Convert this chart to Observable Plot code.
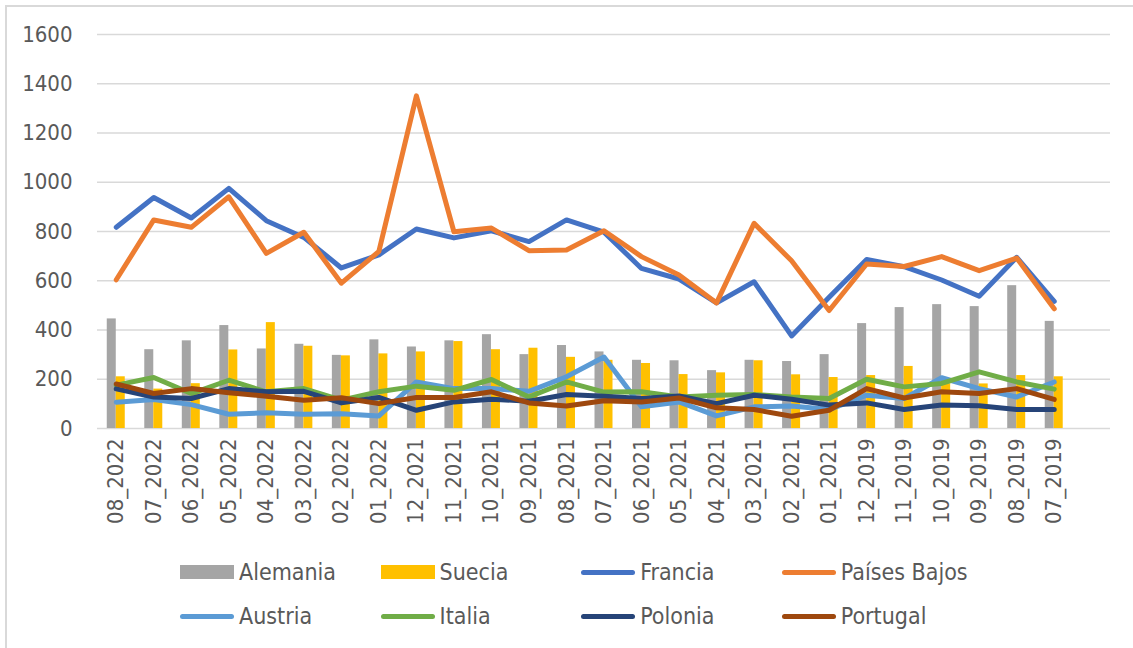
<!DOCTYPE html>
<html>
<head>
<meta charset="utf-8">
<script src="https://cdn.jsdelivr.net/npm/d3@7"></script>
<script src="https://cdn.jsdelivr.net/npm/@observablehq/plot@0.6"></script>
<style>
  html, body { margin: 0; padding: 0; background: #fff; overflow: hidden; }
  body { width: 1133px; height: 648px; position: relative; font-family: "DejaVu Sans Condensed", "DejaVu Sans", Roboto, sans-serif; }
  #frame { position: absolute; left: 5px; top: 5px; width: 1300px; height: 800px; border: 2px solid #d9d9d9; box-sizing: border-box; pointer-events: none; }
  #chart { position: absolute; left: 0; top: 0; }
  #legend { position: absolute; left: 0; top: 545px; width: 1133px; }
  .row { position: absolute; left: 180px; height: 30px; display: flex; }
  .item { width: 200.6px; display: flex; align-items: center; font-size: 23px; color: #595959; }
  .sw { display: inline-block; width: 54px; margin-right: 5px; }
  .box { height: 14px; }
  .ln { height: 5px; border-radius: 3px; }
</style>
</head>
<body>
<div id="chart"></div>
<div id="legend"></div>
<div id="frame"></div>
<script>
const categories = ["08_2022","07_2022","06_2022","05_2022","04_2022","03_2022","02_2022","01_2022","12_2021","11_2021","10_2021","09_2021","08_2021","07_2021","06_2021","05_2021","04_2021","03_2021","02_2021","01_2021","12_2019","11_2019","10_2019","09_2019","08_2019","07_2019"];
const alemania = [445,320,356,418,323,342,297,360,331,356,381,300,337,311,277,275,235,277,272,300,426,491,503,495,580,435];
const suecia   = [210,160,182,319,430,334,295,303,311,353,320,326,289,277,264,219,226,275,218,207,215,252,182,181,215,210];
const francia  = [817,938,855,975,844,776,652,705,810,774,803,759,847,797,650,607,510,596,376,533,686,657,603,537,695,516];
const paisesBajos = [604,847,817,941,711,797,590,719,1351,799,814,722,725,803,698,623,510,833,681,479,668,658,698,641,692,486];
const austria  = [107,118,97,58,64,58,60,51,189,162,162,151,210,290,88,108,51,88,91,77,135,122,206,162,128,189];
const italia   = [176,207,142,196,149,162,115,149,172,155,199,128,189,148,149,128,135,138,128,122,200,169,183,230,189,160];
const polonia  = [161,128,122,162,149,151,104,126,74,108,119,111,138,131,122,132,101,135,119,95,104,77,95,92,77,77];
const portugal = [181,142,162,145,131,115,125,101,126,126,149,104,91,113,108,124,84,77,50,74,162,124,149,142,162,118];
const yTicks = [0,200,400,600,800,1000,1200,1400,1600];

const barSeries = [
  {name: "Alemania", values: alemania, color: "#A5A5A5"},
  {name: "Suecia", values: suecia, color: "#FFC000"}
];
const lineSeries = [
  {name: "Francia", values: francia, color: "#4472C4"},
  {name: "Países Bajos", values: paisesBajos, color: "#ED7D31"},
  {name: "Austria", values: austria, color: "#5B9BD5"},
  {name: "Italia", values: italia, color: "#70AD47"},
  {name: "Polonia", values: polonia, color: "#264478"},
  {name: "Portugal", values: portugal, color: "#9E480E"}
];

const domainX = [...categories, " "];
const width = 1133, marginLeft = 97, marginRight = 23;
const bw = (width - marginLeft - marginRight) / domainX.length;
const barW = 9;

const toRows = s => categories.map((c, i) => ({cat: c, value: s.values[i], series: s.name}));

const marks = [
  Plot.ruleY(yTicks, {stroke: "#d9d9d9", strokeWidth: 1.5}),
  Plot.barY(toRows(barSeries[0]), {x: "cat", y: "value", fill: barSeries[0].color, insetLeft: bw/2 - barW, insetRight: bw/2}),
  Plot.barY(toRows(barSeries[1]), {x: "cat", y: "value", fill: barSeries[1].color, insetLeft: bw/2, insetRight: bw/2 - barW})
];
for (const s of lineSeries) {
  marks.push(Plot.line(toRows(s), {x: "cat", y: "value", stroke: s.color, strokeWidth: 5, strokeLinecap: "round", strokeLinejoin: "round"}));
}

const chart = Plot.plot({
  width, height: 545,
  marginLeft, marginRight, marginTop: 34, marginBottom: 117,
  style: {fontFamily: '"DejaVu Sans Condensed", "DejaVu Sans", Roboto, sans-serif', fontSize: "22px", color: "#595959", background: "transparent", overflow: "visible"},
  x: {domain: domainX, padding: 0, round: false, label: null, tickSize: 0, tickPadding: 10, tickRotate: -90},
  y: {domain: [0, 1600], ticks: yTicks, tickFormat: d => String(d), label: null, tickSize: 0, tickPadding: 25},
  marks
});
document.getElementById("chart").appendChild(chart);

const legend = document.getElementById("legend");
const rowsDef = [
  {top: 12, items: [["Alemania","#A5A5A5","box"],["Suecia","#FFC000","box"],["Francia","#4472C4","ln"],["Países Bajos","#ED7D31","ln"]]},
  {top: 56, items: [["Austria","#5B9BD5","ln"],["Italia","#70AD47","ln"],["Polonia","#264478","ln"],["Portugal","#9E480E","ln"]]}
];
for (const r of rowsDef) {
  const row = document.createElement("div");
  row.className = "row";
  row.style.top = r.top + "px";
  for (const [name, color, kind] of r.items) {
    const it = document.createElement("div");
    it.className = "item";
    const sw = document.createElement("span");
    sw.className = "sw " + kind;
    sw.style.background = color;
    it.appendChild(sw);
    it.appendChild(document.createTextNode(name));
    row.appendChild(it);
  }
  legend.appendChild(row);
}
</script>
</body>
</html>
